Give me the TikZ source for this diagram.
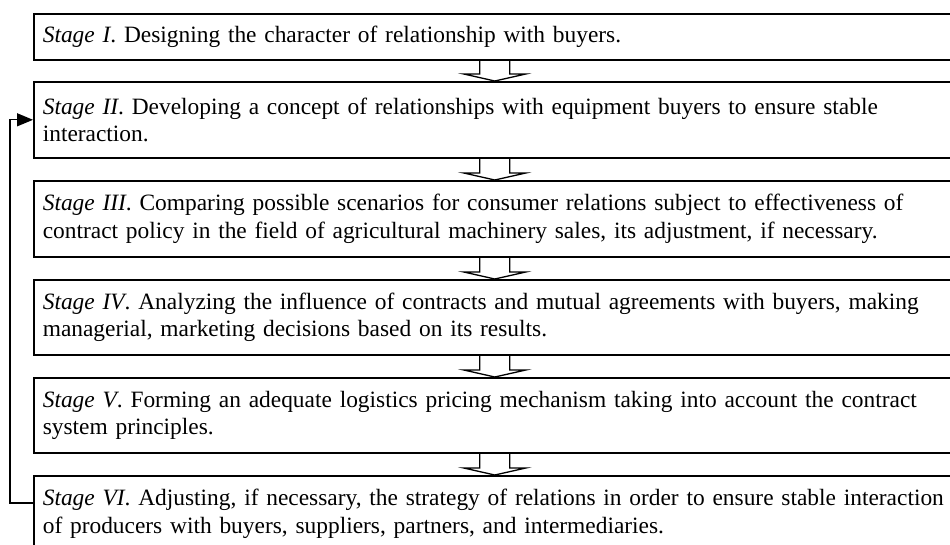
\documentclass[tikz,border=0pt]{standalone}
\usepackage{fontspec}
\setmainfont{Liberation Serif}
\usetikzlibrary{arrows.meta, positioning, calc}

\tikzset{
  stagebox/.style={draw, line width=1.6pt, rectangle, anchor=north west,
    minimum width=922pt, text width=904pt, inner xsep=9pt, inner ysep=0pt,
    align=left, font=\fontsize{23.4}{27.4}\selectfont},
  hollow/.style={line width=1.3pt},
  back/.style={line width=1.3pt, -{Triangle[length=16pt,width=13pt]}}
}
% hollow down arrow from one stage to the next
\newcommand\stagearrow[2]{%
  \draw[hollow] ([xshift=-15pt]#1.south) -- ([xshift=-15pt,yshift=7pt]#2.north)
    -- ([xshift=-31pt,yshift=7pt]#2.north) -- (#2.north)
    -- ([xshift=31pt,yshift=7pt]#2.north) -- ([xshift=15pt,yshift=7pt]#2.north)
    -- ([xshift=15pt]#1.south);}

\begin{document}
\begin{tikzpicture}[x=1pt, y=-1pt]
  \clip (0,0) rectangle (950,544);
  \node[stagebox, minimum height=46pt] (s1) at (33,13)
    {\textit{Stage I}. Designing the character of relationship with buyers.};
  \node[stagebox, minimum height=76pt] (s2) at (33,81)
    {\textit{Stage II}. Developing a concept of relationships with equipment buyers to ensure stable\\
     interaction.};
  \node[stagebox, minimum height=76pt] (s3) at (33,180)
    {\textit{Stage III}. Comparing possible scenarios for consumer relations subject to effectiveness of\\
     contract policy in the field of agricultural machinery sales, its adjustment, if necessary.};
  \node[stagebox, minimum height=75pt] (s4) at (33,279)
    {\textit{Stage IV}. Analyzing the influence of contracts and mutual agreements with buyers, making\\
     managerial, marketing decisions based on its results.};
  \node[stagebox, minimum height=75pt] (s5) at (33,377)
    {\textit{Stage V}. Forming an adequate logistics pricing mechanism taking into account the contract\\
     system principles.};
  \node[stagebox, minimum height=76pt] (s6) at (33,475)
    {\textit{Stage VI}. Adjusting, if necessary, the strategy of relations in order to ensure stable interaction\\
     of producers with buyers, suppliers, partners, and intermediaries.};

  \stagearrow{s1}{s2}
  \stagearrow{s2}{s3}
  \stagearrow{s3}{s4}
  \stagearrow{s4}{s5}
  \stagearrow{s5}{s6}

  % feedback from the last stage to stage II
  \draw[back] ([yshift=-28pt]s6.north west) -- ++(-23,0) |- (s2.west);
\end{tikzpicture}
\end{document}
